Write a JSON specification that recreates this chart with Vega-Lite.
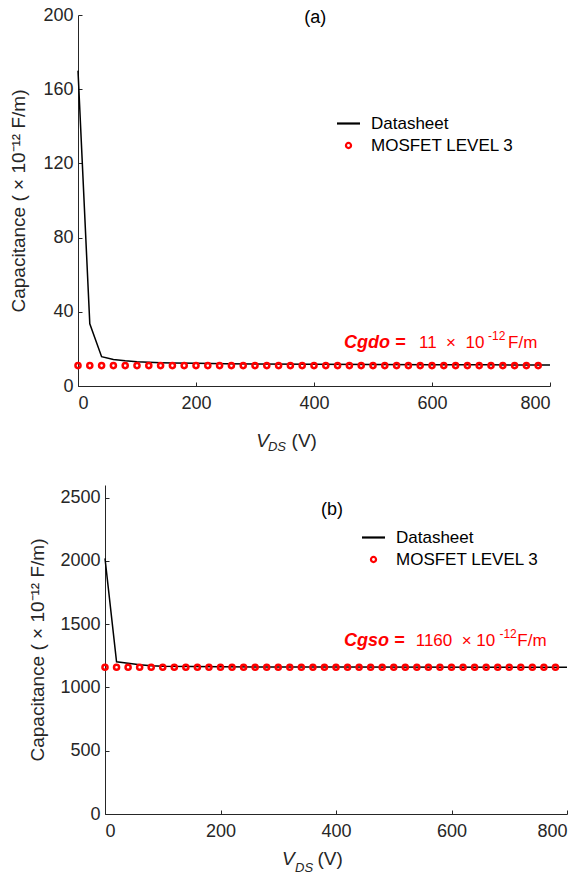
{
  "$schema": "https://vega.github.io/schema/vega-lite/v6.json",
  "padding": {"left": 4, "top": 6, "right": 0, "bottom": 0},
  "background": "white",
  "config": {
    "view": {"stroke": null},
    "font": "Liberation Sans",
    "axis": {
      "grid": false,
      "domainColor": "#262626",
      "tickColor": "#262626",
      "labelColor": "#262626",
      "titleColor": "#262626",
      "labelFontSize": 18,
      "titleFontSize": 19,
      "titleFontWeight": "normal",
      "tickSize": -4,
      "labelFont": "Liberation Sans",
      "titleFont": "Liberation Sans"
    },
    "axisX": {"labelPadding": 12},
    "axisY": {"labelPadding": 9},
    "legend": {
      "orient": "none",
      "title": null,
      "labelFontSize": 17,
      "labelColor": "#000000",
      "labelFont": "Liberation Sans",
      "symbolSize": 529,
      "symbolStrokeWidth": 2.2,
      "labelOffset": 14,
      "rowPadding": 4
    }
  },
  "datasets": {
    "lineA": [
      {"v": 0, "c": 170, "series": "Datasheet"},
      {"v": 20, "c": 33.5, "series": "Datasheet"},
      {"v": 40, "c": 15.8, "series": "Datasheet"},
      {"v": 60, "c": 14.3, "series": "Datasheet"},
      {"v": 80, "c": 13.6, "series": "Datasheet"},
      {"v": 100, "c": 13.1, "series": "Datasheet"},
      {"v": 120, "c": 12.8, "series": "Datasheet"},
      {"v": 140, "c": 12.6, "series": "Datasheet"},
      {"v": 160, "c": 12.4, "series": "Datasheet"},
      {"v": 200, "c": 12.2, "series": "Datasheet"},
      {"v": 250, "c": 12.0, "series": "Datasheet"},
      {"v": 300, "c": 11.9, "series": "Datasheet"},
      {"v": 400, "c": 11.7, "series": "Datasheet"},
      {"v": 500, "c": 11.6, "series": "Datasheet"},
      {"v": 600, "c": 11.5, "series": "Datasheet"},
      {"v": 700, "c": 11.4, "series": "Datasheet"},
      {"v": 800, "c": 11.3, "series": "Datasheet"}
    ],
    "ptsA": [
      {"v": 0, "c": 11, "series": "MOSFET LEVEL 3"}, {"v": 20, "c": 11, "series": "MOSFET LEVEL 3"},
      {"v": 40, "c": 11, "series": "MOSFET LEVEL 3"}, {"v": 60, "c": 11, "series": "MOSFET LEVEL 3"},
      {"v": 80, "c": 11, "series": "MOSFET LEVEL 3"}, {"v": 100, "c": 11, "series": "MOSFET LEVEL 3"},
      {"v": 120, "c": 11, "series": "MOSFET LEVEL 3"}, {"v": 140, "c": 11, "series": "MOSFET LEVEL 3"},
      {"v": 160, "c": 11, "series": "MOSFET LEVEL 3"}, {"v": 180, "c": 11, "series": "MOSFET LEVEL 3"},
      {"v": 200, "c": 11, "series": "MOSFET LEVEL 3"}, {"v": 220, "c": 11, "series": "MOSFET LEVEL 3"},
      {"v": 240, "c": 11, "series": "MOSFET LEVEL 3"}, {"v": 260, "c": 11, "series": "MOSFET LEVEL 3"},
      {"v": 280, "c": 11, "series": "MOSFET LEVEL 3"}, {"v": 300, "c": 11, "series": "MOSFET LEVEL 3"},
      {"v": 320, "c": 11, "series": "MOSFET LEVEL 3"}, {"v": 340, "c": 11, "series": "MOSFET LEVEL 3"},
      {"v": 360, "c": 11, "series": "MOSFET LEVEL 3"}, {"v": 380, "c": 11, "series": "MOSFET LEVEL 3"},
      {"v": 400, "c": 11, "series": "MOSFET LEVEL 3"}, {"v": 420, "c": 11, "series": "MOSFET LEVEL 3"},
      {"v": 440, "c": 11, "series": "MOSFET LEVEL 3"}, {"v": 460, "c": 11, "series": "MOSFET LEVEL 3"},
      {"v": 480, "c": 11, "series": "MOSFET LEVEL 3"}, {"v": 500, "c": 11, "series": "MOSFET LEVEL 3"},
      {"v": 520, "c": 11, "series": "MOSFET LEVEL 3"}, {"v": 540, "c": 11, "series": "MOSFET LEVEL 3"},
      {"v": 560, "c": 11, "series": "MOSFET LEVEL 3"}, {"v": 580, "c": 11, "series": "MOSFET LEVEL 3"},
      {"v": 600, "c": 11, "series": "MOSFET LEVEL 3"}, {"v": 620, "c": 11, "series": "MOSFET LEVEL 3"},
      {"v": 640, "c": 11, "series": "MOSFET LEVEL 3"}, {"v": 660, "c": 11, "series": "MOSFET LEVEL 3"},
      {"v": 680, "c": 11, "series": "MOSFET LEVEL 3"}, {"v": 700, "c": 11, "series": "MOSFET LEVEL 3"},
      {"v": 720, "c": 11, "series": "MOSFET LEVEL 3"}, {"v": 740, "c": 11, "series": "MOSFET LEVEL 3"},
      {"v": 760, "c": 11, "series": "MOSFET LEVEL 3"}, {"v": 780, "c": 11, "series": "MOSFET LEVEL 3"}
    ],
    "annA": [
      {"part": "bold", "x": 451, "y": 20.5, "t": "Cgdo ="},
      {"part": "num", "x": 578, "y": 20.5, "t": "11\u00a0\u00a0×\u00a0\u00a010"},
      {"part": "sup", "x": 695, "y": 25, "t": "-12"},
      {"part": "num", "x": 729, "y": 20.5, "t": "F/m"},
      {"part": "lab", "x": 402, "y": 198.6, "t": "(a)"},
      {"part": "xv", "x": 302, "y": -32.9, "t": "V"},
      {"part": "xsub", "x": 322, "y": -35, "t": "DS"},
      {"part": "xunit", "x": 362, "y": -32.9, "t": "(V)"}
    ],
    "lineB": [
      {"v": 0, "c": 2020, "series": "Datasheet"},
      {"v": 20, "c": 1203, "series": "Datasheet"},
      {"v": 40, "c": 1192, "series": "Datasheet"},
      {"v": 60, "c": 1180, "series": "Datasheet"},
      {"v": 80, "c": 1172, "series": "Datasheet"},
      {"v": 100, "c": 1168, "series": "Datasheet"},
      {"v": 150, "c": 1165, "series": "Datasheet"},
      {"v": 200, "c": 1163, "series": "Datasheet"},
      {"v": 300, "c": 1162, "series": "Datasheet"},
      {"v": 400, "c": 1161, "series": "Datasheet"},
      {"v": 800, "c": 1160, "series": "Datasheet"}
    ],
    "ptsB": [
      {"v": 0, "c": 1160, "series": "MOSFET LEVEL 3"}, {"v": 20, "c": 1160, "series": "MOSFET LEVEL 3"},
      {"v": 40, "c": 1160, "series": "MOSFET LEVEL 3"}, {"v": 60, "c": 1160, "series": "MOSFET LEVEL 3"},
      {"v": 80, "c": 1160, "series": "MOSFET LEVEL 3"}, {"v": 100, "c": 1160, "series": "MOSFET LEVEL 3"},
      {"v": 120, "c": 1160, "series": "MOSFET LEVEL 3"}, {"v": 140, "c": 1160, "series": "MOSFET LEVEL 3"},
      {"v": 160, "c": 1160, "series": "MOSFET LEVEL 3"}, {"v": 180, "c": 1160, "series": "MOSFET LEVEL 3"},
      {"v": 200, "c": 1160, "series": "MOSFET LEVEL 3"}, {"v": 220, "c": 1160, "series": "MOSFET LEVEL 3"},
      {"v": 240, "c": 1160, "series": "MOSFET LEVEL 3"}, {"v": 260, "c": 1160, "series": "MOSFET LEVEL 3"},
      {"v": 280, "c": 1160, "series": "MOSFET LEVEL 3"}, {"v": 300, "c": 1160, "series": "MOSFET LEVEL 3"},
      {"v": 320, "c": 1160, "series": "MOSFET LEVEL 3"}, {"v": 340, "c": 1160, "series": "MOSFET LEVEL 3"},
      {"v": 360, "c": 1160, "series": "MOSFET LEVEL 3"}, {"v": 380, "c": 1160, "series": "MOSFET LEVEL 3"},
      {"v": 400, "c": 1160, "series": "MOSFET LEVEL 3"}, {"v": 420, "c": 1160, "series": "MOSFET LEVEL 3"},
      {"v": 440, "c": 1160, "series": "MOSFET LEVEL 3"}, {"v": 460, "c": 1160, "series": "MOSFET LEVEL 3"},
      {"v": 480, "c": 1160, "series": "MOSFET LEVEL 3"}, {"v": 500, "c": 1160, "series": "MOSFET LEVEL 3"},
      {"v": 520, "c": 1160, "series": "MOSFET LEVEL 3"}, {"v": 540, "c": 1160, "series": "MOSFET LEVEL 3"},
      {"v": 560, "c": 1160, "series": "MOSFET LEVEL 3"}, {"v": 580, "c": 1160, "series": "MOSFET LEVEL 3"},
      {"v": 600, "c": 1160, "series": "MOSFET LEVEL 3"}, {"v": 620, "c": 1160, "series": "MOSFET LEVEL 3"},
      {"v": 640, "c": 1160, "series": "MOSFET LEVEL 3"}, {"v": 660, "c": 1160, "series": "MOSFET LEVEL 3"},
      {"v": 680, "c": 1160, "series": "MOSFET LEVEL 3"}, {"v": 700, "c": 1160, "series": "MOSFET LEVEL 3"},
      {"v": 720, "c": 1160, "series": "MOSFET LEVEL 3"}, {"v": 740, "c": 1160, "series": "MOSFET LEVEL 3"},
      {"v": 760, "c": 1160, "series": "MOSFET LEVEL 3"}, {"v": 780, "c": 1160, "series": "MOSFET LEVEL 3"}
    ],
    "annB": [
      {"part": "bold", "x": 414, "y": 1330, "t": "Cgso ="},
      {"part": "num", "x": 538, "y": 1330, "t": "1160\u00a0\u00a0×\u00a010"},
      {"part": "sup", "x": 683, "y": 1393, "t": "-12"},
      {"part": "num", "x": 714, "y": 1330, "t": "F/m"},
      {"part": "lab", "x": 393, "y": 2403, "t": "(b)"},
      {"part": "xv", "x": 306.5, "y": -406, "t": "V"},
      {"part": "xsub", "x": 329, "y": -456, "t": "DS"},
      {"part": "xunit", "x": 368, "y": -406, "t": "(V)"}
    ]
  },
  "columns": 1,
  "spacing": 31,
  "resolve": {
    "scale": {"color": "independent", "shape": "independent"},
    "legend": {"color": "independent", "shape": "independent"}
  },
  "concat": [
    {
      "spacing": 0,
      "resolve": {
        "scale": {"color": "independent", "shape": "independent"},
        "legend": {"color": "independent", "shape": "independent"}
      },
      "hconcat": [
        {
          "width": 5,
          "height": 10,
          "data": {"values": []},
          "mark": {"type": "point", "opacity": 0},
          "encoding": {}
        },
        {
          "width": 472,
          "height": 371,
          "layer": [
            {
              "data": {"name": "lineA"},
              "mark": {"type": "line", "strokeWidth": 1.5},
              "encoding": {
                "x": {"field": "v", "type": "quantitative", "scale": {"domain": [0, 800]}, "axis": {"values": [0, 200, 400, 600, 800], "title": null}},
                "y": {"field": "c", "type": "quantitative", "scale": {"domain": [0, 200]}, "axis": {"values": [0, 40, 80, 120, 160, 200], "format": "d", "title": "Capacitance ( × 10⁻¹² F/m)", "titlePadding": 14}},
                "color": {"field": "series", "type": "nominal", "scale": {"domain": ["Datasheet", "MOSFET LEVEL 3"], "range": ["#000000", "#ff0000"]},
                  "legend": {"legendX": 262, "legendY": 100, "encode": {"symbols": {"update": {"size": {"signal": "datum.value === 'Datasheet' ? 529 : 26"}}}}}}
              }
            },
            {
              "data": {"name": "ptsA"},
              "mark": {"type": "point", "filled": false, "size": 26, "strokeWidth": 2.5, "opacity": 1},
              "encoding": {
                "x": {"field": "v", "type": "quantitative"},
                "y": {"field": "c", "type": "quantitative"},
                "color": {"field": "series", "type": "nominal"},
                "shape": {"field": "series", "type": "nominal", "scale": {"domain": ["Datasheet", "MOSFET LEVEL 3"], "range": ["stroke", "circle"]}}
              }
            },
            {
              "data": {"name": "annA"},
              "transform": [{"filter": "datum.part === 'bold'"}],
              "mark": {"type": "text", "align": "left", "baseline": "alphabetic", "fontSize": 18, "fontWeight": "bold", "fontStyle": "italic", "color": "#ff0000"},
              "encoding": {"x": {"field": "x", "type": "quantitative"}, "y": {"field": "y", "type": "quantitative"}, "text": {"field": "t"}}
            },
            {
              "data": {"name": "annA"},
              "transform": [{"filter": "datum.part === 'num'"}],
              "mark": {"type": "text", "align": "left", "baseline": "alphabetic", "fontSize": 17, "color": "#ff0000"},
              "encoding": {"x": {"field": "x", "type": "quantitative"}, "y": {"field": "y", "type": "quantitative"}, "text": {"field": "t"}}
            },
            {
              "data": {"name": "annA"},
              "transform": [{"filter": "datum.part === 'sup'"}],
              "mark": {"type": "text", "align": "left", "baseline": "alphabetic", "fontSize": 12, "color": "#ff0000"},
              "encoding": {"x": {"field": "x", "type": "quantitative"}, "y": {"field": "y", "type": "quantitative"}, "text": {"field": "t"}}
            },
            {
              "data": {"name": "annA"},
              "transform": [{"filter": "datum.part === 'lab'"}],
              "mark": {"type": "text", "align": "center", "baseline": "middle", "fontSize": 18, "color": "#000000"},
              "encoding": {"x": {"field": "x", "type": "quantitative"}, "y": {"field": "y", "type": "quantitative"}, "text": {"field": "t"}}
            },
            {
              "data": {"name": "annA"},
              "transform": [{"filter": "datum.part === 'xv'"}],
              "mark": {"type": "text", "align": "left", "baseline": "alphabetic", "fontSize": 19, "fontStyle": "italic", "color": "#262626"},
              "encoding": {"x": {"field": "x", "type": "quantitative"}, "y": {"field": "y", "type": "quantitative"}, "text": {"field": "t"}}
            },
            {
              "data": {"name": "annA"},
              "transform": [{"filter": "datum.part === 'xsub'"}],
              "mark": {"type": "text", "align": "left", "baseline": "alphabetic", "fontSize": 13, "fontStyle": "italic", "color": "#262626"},
              "encoding": {"x": {"field": "x", "type": "quantitative"}, "y": {"field": "y", "type": "quantitative"}, "text": {"field": "t"}}
            },
            {
              "data": {"name": "annA"},
              "transform": [{"filter": "datum.part === 'xunit'"}],
              "mark": {"type": "text", "align": "left", "baseline": "alphabetic", "fontSize": 19, "color": "#262626"},
              "encoding": {"x": {"field": "x", "type": "quantitative"}, "y": {"field": "y", "type": "quantitative"}, "text": {"field": "t"}}
            }
          ]
        }
      ]
    },
    {
      "spacing": 0,
      "resolve": {
        "scale": {"color": "independent", "shape": "independent"},
        "legend": {"color": "independent", "shape": "independent"}
      },
      "hconcat": [
        {
          "width": 24,
          "height": 10,
          "data": {"values": []},
          "mark": {"type": "point", "opacity": 0},
          "encoding": {}
        },
        {
          "width": 462,
          "height": 329,
          "layer": [
            {
              "data": {"name": "lineB"},
              "mark": {"type": "line", "strokeWidth": 1.5},
              "encoding": {
                "x": {"field": "v", "type": "quantitative", "scale": {"domain": [0, 800]}, "axis": {"values": [0, 200, 400, 600, 800], "title": null}},
                "y": {"field": "c", "type": "quantitative", "scale": {"domain": [0, 2500]}, "axis": {"values": [0, 500, 1000, 1500, 2000, 2500], "format": "d", "title": "Capacitance ( × 10⁻¹² F/m)", "titlePadding": 12}},
                "color": {"field": "series", "type": "nominal", "scale": {"domain": ["Datasheet", "MOSFET LEVEL 3"], "range": ["#000000", "#ff0000"]},
                  "legend": {"legendX": 260, "legendY": 44, "encode": {"symbols": {"update": {"size": {"signal": "datum.value === 'Datasheet' ? 529 : 26"}}}}}}
              }
            },
            {
              "data": {"name": "ptsB"},
              "mark": {"type": "point", "filled": false, "size": 26, "strokeWidth": 2.5, "opacity": 1},
              "encoding": {
                "x": {"field": "v", "type": "quantitative"},
                "y": {"field": "c", "type": "quantitative"},
                "color": {"field": "series", "type": "nominal"},
                "shape": {"field": "series", "type": "nominal", "scale": {"domain": ["Datasheet", "MOSFET LEVEL 3"], "range": ["stroke", "circle"]}}
              }
            },
            {
              "data": {"name": "annB"},
              "transform": [{"filter": "datum.part === 'bold'"}],
              "mark": {"type": "text", "align": "left", "baseline": "alphabetic", "fontSize": 18, "fontWeight": "bold", "fontStyle": "italic", "color": "#ff0000"},
              "encoding": {"x": {"field": "x", "type": "quantitative"}, "y": {"field": "y", "type": "quantitative"}, "text": {"field": "t"}}
            },
            {
              "data": {"name": "annB"},
              "transform": [{"filter": "datum.part === 'num'"}],
              "mark": {"type": "text", "align": "left", "baseline": "alphabetic", "fontSize": 17, "color": "#ff0000"},
              "encoding": {"x": {"field": "x", "type": "quantitative"}, "y": {"field": "y", "type": "quantitative"}, "text": {"field": "t"}}
            },
            {
              "data": {"name": "annB"},
              "transform": [{"filter": "datum.part === 'sup'"}],
              "mark": {"type": "text", "align": "left", "baseline": "alphabetic", "fontSize": 12, "color": "#ff0000"},
              "encoding": {"x": {"field": "x", "type": "quantitative"}, "y": {"field": "y", "type": "quantitative"}, "text": {"field": "t"}}
            },
            {
              "data": {"name": "annB"},
              "transform": [{"filter": "datum.part === 'lab'"}],
              "mark": {"type": "text", "align": "center", "baseline": "middle", "fontSize": 18, "color": "#000000"},
              "encoding": {"x": {"field": "x", "type": "quantitative"}, "y": {"field": "y", "type": "quantitative"}, "text": {"field": "t"}}
            },
            {
              "data": {"name": "annB"},
              "transform": [{"filter": "datum.part === 'xv'"}],
              "mark": {"type": "text", "align": "left", "baseline": "alphabetic", "fontSize": 19, "fontStyle": "italic", "color": "#262626"},
              "encoding": {"x": {"field": "x", "type": "quantitative"}, "y": {"field": "y", "type": "quantitative"}, "text": {"field": "t"}}
            },
            {
              "data": {"name": "annB"},
              "transform": [{"filter": "datum.part === 'xsub'"}],
              "mark": {"type": "text", "align": "left", "baseline": "alphabetic", "fontSize": 13, "fontStyle": "italic", "color": "#262626"},
              "encoding": {"x": {"field": "x", "type": "quantitative"}, "y": {"field": "y", "type": "quantitative"}, "text": {"field": "t"}}
            },
            {
              "data": {"name": "annB"},
              "transform": [{"filter": "datum.part === 'xunit'"}],
              "mark": {"type": "text", "align": "left", "baseline": "alphabetic", "fontSize": 19, "color": "#262626"},
              "encoding": {"x": {"field": "x", "type": "quantitative"}, "y": {"field": "y", "type": "quantitative"}, "text": {"field": "t"}}
            }
          ]
        }
      ]
    }
  ]
}
